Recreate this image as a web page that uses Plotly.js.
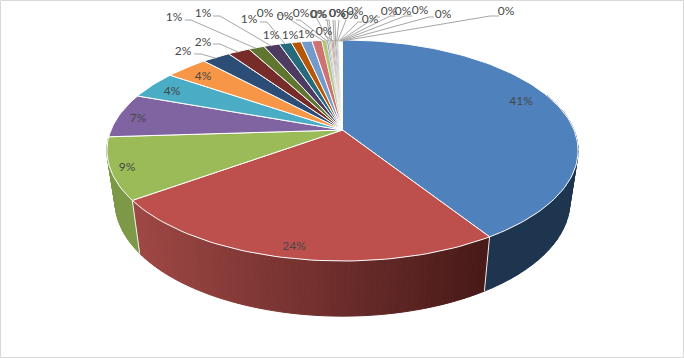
<!DOCTYPE html>
<html>
<head>
<meta charset="utf-8">
<script src="https://cdn.plot.ly/plotly-3.0.1.min.js"></script>
<style>html,body{margin:0;padding:0;background:#fff}</style>
</head>
<body>
<div id="chart" style="width:684px;height:358px"></div>
<script>
// ---- data ----
var values = [41, 24, 9, 6.5, 4.1, 3.5, 2.3, 1.8, 1.3, 1.3, 1.0, 0.8, 0.9, 0.8, 0.4,
              0.14, 0.12, 0.12, 0.1, 0.1, 0.1, 0.1, 0.08, 0.08, 0.08, 0.06, 0.06, 0.06, 0.05, 0.05];
// ---- styles ----
var topColors = ['#4f81bd','#bd4f4c','#9bbb59','#8064a2','#4bacc6','#f79646','#2c4d75','#772c2a','#5f7530','#4d3b62','#276a7c','#b65708',
                 '#729aca','#cd7371','#afc97a','#9983b5','#6fbdd1','#f9ab6b','#3a679c','#9e3b38','#7f9c40','#664f82','#338ca4','#d27316',
                 '#95b3d7','#d99694','#c3d69b','#b2a2c7','#92cddc','#fac08f'];
var labelX = [521,294,127,138,172,203,183,203,174,203,249,271,290,306,265,285,301,318,319,324,337,337.5,350,355,370,389,403,420,443,506];
var labelY = [101.5,246.5,167.5,118.5,91.5,76.5,51.5,42.5,17.5,13.5,19.5,35.5,35.5,34.5,13.5,16.5,13.5,14.5,14.5,31.5,13.5,13.5,15.5,11.5,19.5,11.5,11.5,10.5,14.5,11.5];
// leader start points [xLabelSide, xElbow, y]; null = label has no leader
var leaders = [null,null,null,null,null,null,
  [194,201,54],[213,220,44],[185,191,20],[213,220,16],[260,267,22],null,null,null,
  [277,283,15],[296,300,20],[311,316,17],[325,327,20],[327,329,20],[325,326,36],
  [333,333,20],[335,335,20],[339,339,20],[345,346,20],[362,358,22],[380,376,17],[395,390,16],[412,405,16],[434,429,17],[499,490,16]];

// ---- projection of the tilted disc ----
var CX = 342.5, P = 0.1855;
var topDisc = {k:231.5, a:130, b:-82.6};
var botDisc = {k:223.4, a:180.5, b:-77};
function proj(d, deg){
  var t = deg*Math.PI/180, u = Math.sin(t), v = Math.cos(t), w = 1+P*v;
  return [CX + d.k*u/w, (d.a + d.b*v)/w];
}
var total = values.reduce(function(s,v){return s+v;},0);
var cum = [0];
values.forEach(function(v,i){cum.push(cum[i]+v/total*360);});

var traces = [];
function poly(pts, fill, lineColor, lineWidth){
  var xs = pts.map(function(p){return p[0];}), ys = pts.map(function(p){return p[1];});
  xs.push(xs[0]); ys.push(ys[0]);
  traces.push({type:'scatter',mode:'lines',x:xs,y:ys,fill:'toself',fillcolor:fill,
    line:{color:lineColor,width:lineWidth},hoverinfo:'skip',showlegend:false});
}
function mix(c1,c2,f){
  return 'rgb('+c1.map(function(c,i){return Math.round(c+(c2[i]-c)*f);}).join(',')+')';
}
// side wall
var wallFrom = [[30,53,80],[157,71,68],[135,163,80]];
var wallTo   = [[30,53,80],[72,26,24],[125,153,72]];
[0,1,2].forEach(function(i){
  var a0 = Math.max(cum[i],70), a1 = Math.min(cum[i+1],292);
  var n = i===1 ? 64 : 30;
  var strips = [];
  for(var j=0;j<n;j++){strips.push(j);}
  strips.forEach(function(j){
    var t0 = a0+(a1-a0)*j/n, t1 = a0+(a1-a0)*(j+1)/n;
    var x0 = proj(topDisc,(t0+t1)/2)[0];
    var f = Math.min(1,Math.max(0,(485-x0)/(485-138)));
    var col = i===1 ? mix(wallTo[1],wallFrom[1],f) : mix(wallFrom[i],wallTo[i],f);
    poly([proj(topDisc,t0),proj(topDisc,t1),proj(botDisc,t1),proj(botDisc,t0)],col,col,1);
  });
});
// white separators on the wall
[cum[1],cum[2]].forEach(function(a){
  var p=proj(topDisc,a), q=proj(botDisc,a);
  traces.push({type:'scatter',mode:'lines',x:[p[0],q[0]],y:[p[1],q[1]],line:{color:'#f4f0f0',width:1},hoverinfo:'skip',showlegend:false});
});
// top face
var apex = [CX,130];
values.forEach(function(v,i){
  var pts = [apex], steps = Math.max(2,Math.ceil((cum[i+1]-cum[i])/1.5));
  for(var j=0;j<=steps;j++){pts.push(proj(topDisc,cum[i]+(cum[i+1]-cum[i])*j/steps));}
  poly(pts,topColors[i],'#ffffff',v>=0.7 ? 1 : 0.5);
});
// leaders
var lx=[], ly=[];
leaders.forEach(function(l,i){
  if(!l) return;
  var r = proj(topDisc,(cum[i]+cum[i+1])/2);
  lx.push(l[0],l[1],r[0],null); ly.push(l[2],l[2],r[1]+1,null);
});
traces.push({type:'scatter',mode:'lines',x:lx,y:ly,line:{color:'#a6a6a6',width:1},hoverinfo:'skip',showlegend:false,connectgaps:false});
// labels
traces.push({type:'scatter',mode:'text',x:labelX,y:labelY,
  text:values.map(function(v){return Math.round(v)+'%';}),
  textposition:'middle center',textfont:{family:'Lato, Carlito, sans-serif',size:12,color:'#484848'},
  hoverinfo:'skip',showlegend:false,cliponaxis:false});

var layout = {
  width:684,height:358,margin:{l:0,r:0,t:0,b:0},
  paper_bgcolor:'#ffffff',plot_bgcolor:'#ffffff',showlegend:false,
  xaxis:{range:[0,684],visible:false,fixedrange:true},
  yaxis:{range:[358,0],visible:false,fixedrange:true},
  shapes:[{type:'rect',xref:'x',yref:'y',x0:0.5,y0:0.5,x1:683.5,y1:357.5,line:{color:'#d9d9d9',width:1},fillcolor:'rgba(0,0,0,0)'}]
};
Plotly.newPlot('chart',traces,layout,{staticPlot:true,displayModeBar:false});
</script>
</body>
</html>
